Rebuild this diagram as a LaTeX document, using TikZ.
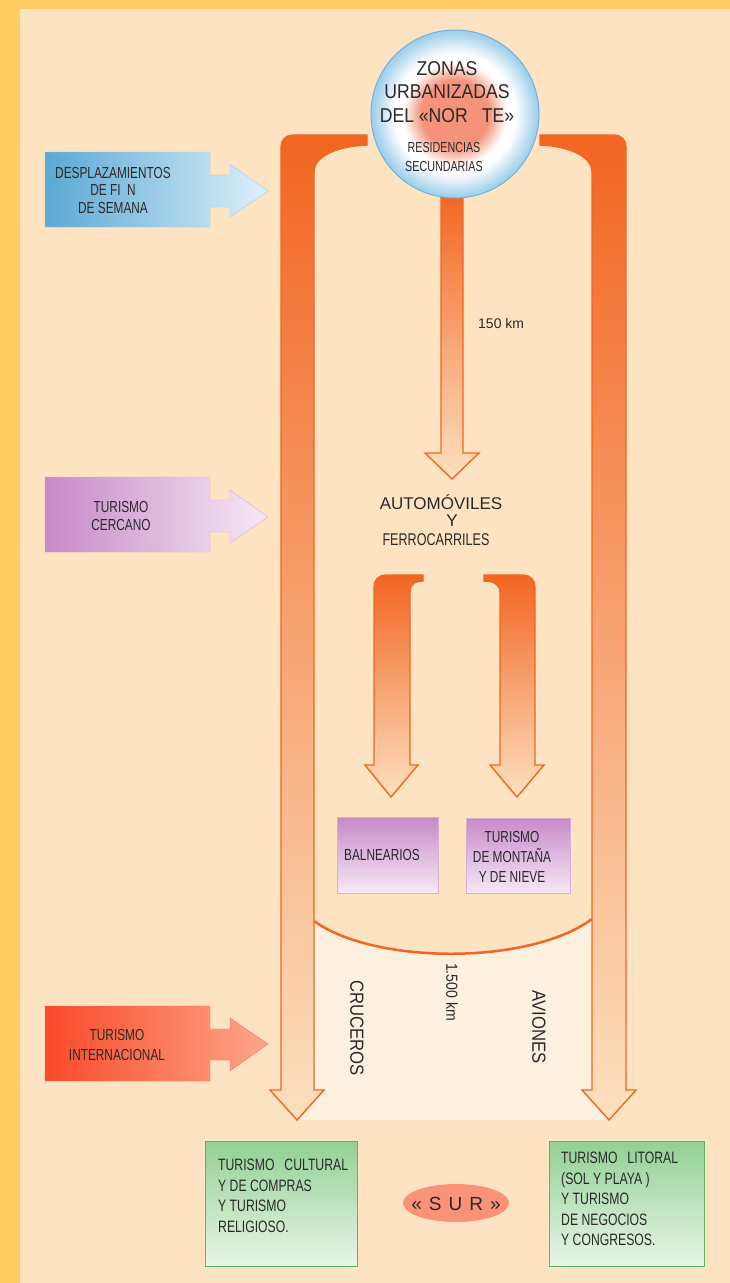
\documentclass[tikz,border=0pt]{standalone}
\usepackage{fontspec}
\usetikzlibrary{shapes.geometric}
\setmainfont{Liberation Sans}
\newfontfamily\cnd[FakeStretch=0.74]{Liberation Sans}
\newfontfamily\semicnd[FakeStretch=0.88]{Liberation Sans}
\definecolor{yellowbar}{HTML}{FFCB63}
\definecolor{bgc}{HTML}{FDE3C1}
\definecolor{lightz}{HTML}{FDF0DF}
\definecolor{orng}{HTML}{F26522}
\definecolor{orngL}{HTML}{FCE0BF}
\definecolor{txt}{HTML}{2A2A2A}
\definecolor{zc1}{HTML}{F4937A}
\definecolor{zb1}{HTML}{A6D3EC}
\definecolor{zb2}{HTML}{79BCE1}
\definecolor{cblue}{HTML}{6FB3DC}
\definecolor{blueL}{HTML}{5AA8D4}
\definecolor{blueR}{HTML}{DDF0F9}
\definecolor{bluebd}{HTML}{9BD0EC}
\definecolor{purL}{HTML}{C78AC9}
\definecolor{purR}{HTML}{F6E8F4}
\definecolor{purbd}{HTML}{D8AED8}
\definecolor{redL}{HTML}{F94A2A}
\definecolor{redR}{HTML}{FDA688}
\definecolor{redbd}{HTML}{F07090}
\definecolor{grT}{HTML}{92D093}
\definecolor{grB}{HTML}{E9F6E8}
\definecolor{grbd}{HTML}{5DB560}
\definecolor{surc}{HTML}{F99277}
\pgfdeclareradialshading{zonashade}{\pgfpoint{0bp}{0bp}}{color(0bp)=(zc1); color(10bp)=(zc1); color(15.5bp)=(white); color(18bp)=(white); color(24bp)=(zb1); color(29bp)=(zb2); color(50bp)=(zb2)}
\begin{document}
\begin{tikzpicture}[x=1pt,y=-1pt,
  bigarrow/.style={draw=orng, line width=1.4pt, top color=orng, bottom color=orngL},
  midarrow/.style={draw=orng, line width=1.4pt, top color=orng, bottom color=orngL},
  lbl/.style={text=txt, inner sep=0pt, align=center},
  sidetxt/.style={lbl, font=\cnd\fontsize{16}{17.5}\selectfont},
  boxtxt/.style={lbl, font=\cnd\fontsize{16}{20}\selectfont},
  grtxt/.style={text=txt, inner sep=0pt, align=left, anchor=north west, font=\cnd\fontsize{16.5}{20.5}\selectfont},
  rottxt/.style={lbl, rotate=-90, font=\semicnd\fontsize{19}{22}\selectfont}]
\useasboundingbox (0,0) rectangle (730,1283);
\fill[fill=yellowbar] (0,0) rectangle (730,1283);
\fill[fill=bgc] (20,9) rectangle (730,1283);
% light zone below the arc
\fill[fill=lightz] (314,921) .. controls (375,965) and (530,965) .. (592,919) -- (592,1100) -- (609,1120) -- (297,1120) -- (314,1100) -- cycle;
\draw[draw=orng, line width=2.5pt] (314,921) .. controls (375,965) and (530,965) .. (592,919);
% big left arrow
\draw[bigarrow] (367,135) -- (293,135) .. controls (286,135) and (281,140) .. (281,147) -- (281,1090) -- (270,1090) -- (297,1120) -- (324,1090) -- (314,1090) -- (314,172) .. controls (314,155) and (340,146) .. (367,145) -- cycle;
% big right arrow
\draw[bigarrow] (540,135) -- (614,135) .. controls (621,135) and (626,140) .. (626,147) -- (626,1090) -- (636,1090) -- (609,1120) -- (582,1090) -- (592,1090) -- (592,172) .. controls (592,155) and (566,146) .. (540,145) -- cycle;
% middle arrow
\draw[midarrow] (441,190) -- (441,453) -- (425,453) -- (452,479) -- (479,453) -- (463,453) -- (463,190) -- cycle;
% circle
\node[circle, minimum size=168pt, inner sep=0pt, shade, shading=zonashade, draw=cblue, line width=1pt] (zonas) at (455,114) {};
\node[lbl, font=\semicnd\fontsize{20}{23.5}\selectfont] (zonastxt) at (447,92) {ZONAS\\URBANIZADAS\\DEL «NOR\hspace{14pt}TE»};
\node[lbl, font=\cnd\fontsize{14.5}{19}\selectfont] (resid) at (444,157) {RESIDENCIAS\\SECUNDARIAS};
\node[lbl, font=\fontsize{14}{16}\selectfont, anchor=west] (km150) at (478,323) {150 km};
% automoviles
\node[lbl, font=\fontsize{17}{19}\selectfont] (auto) at (441,502) {AUTOMÓVILES};
\node[lbl, font=\fontsize{17}{19}\selectfont] (y) at (452,521) {Y};
\node[lbl, font=\cnd\fontsize{17}{19}\selectfont] (ferro) at (436,540) {FERROCARRILES};
% small arrows
\draw[midarrow] (423,575) -- (386,575) .. controls (379,575) and (374,580) .. (374,587) -- (374,765) -- (365,765) -- (391,797) -- (418,765) -- (410,765) -- (410,592) .. controls (410,584) and (415,581) .. (423,581) -- cycle;
\draw[midarrow] (484,575) -- (523,575) .. controls (530,575) and (535,580) .. (535,587) -- (535,765) -- (544,765) -- (517,797) -- (490,765) -- (500,765) -- (500,592) .. controls (500,584) and (493,581) .. (484,581) -- cycle;
% purple boxes
\draw[draw=purbd, top color=purL, bottom color=purR] (337,817) rectangle (438,893);
\node[boxtxt] (baln) at (382,855) {BALNEARIOS};
\draw[draw=purbd, top color=purL, bottom color=purR] (466,818) rectangle (570,893);
\node[boxtxt] (mont) at (512,857) {TURISMO\\DE MONTAÑA\\Y DE NIEVE};
% rotated labels
\node[rottxt] (cruc) at (357,1028) {CRUCEROS};
\node[rottxt, font=\semicnd\fontsize{16}{18}\selectfont] (km1500) at (452,992) {1.500 km};
\node[rottxt] (avion) at (539,1027) {AVIONES};
% side arrows
\draw[draw=bluebd, left color=blueL, right color=blueR] (45,152) -- (210,152) -- (210,175) -- (230,175) -- (230,164) -- (268,191) -- (230,217) -- (230,207) -- (210,207) -- (210,227) -- (45,227) -- cycle;
\node[sidetxt] (despl) at (113,190) {DESPLAZAMIENTOS\\DE FI\ \ N\\DE SEMANA};
\draw[draw=purbd, left color=purL, right color=purR] (45,477) -- (210,477) -- (210,500) -- (230,500) -- (230,490) -- (268,517) -- (230,543) -- (230,532) -- (210,532) -- (210,552) -- (45,552) -- cycle;
\node[sidetxt] (cercano) at (121,516) {TURISMO\\CERCANO};
\draw[draw=redbd, left color=redL, right color=redR] (45,1006) -- (210,1006) -- (210,1029) -- (230,1029) -- (230,1018) -- (268,1044) -- (230,1071) -- (230,1060) -- (210,1060) -- (210,1081) -- (45,1081) -- cycle;
\node[sidetxt, font=\cnd\fontsize{16}{20}\selectfont] (intern) at (117,1045) {TURISMO\\INTERNACIONAL};
% green boxes
\draw[draw=grbd, top color=grT, bottom color=grB] (205,1141) rectangle (357,1266);
\node[grtxt] (cult) at (218,1159) {TURISMO\hspace{10pt}CULTURAL\\Y DE COMPRAS\\Y TURISMO\\RELIGIOSO.};
\draw[draw=grbd, top color=grT, bottom color=grB] (549,1141) rectangle (704,1266);
\node[grtxt] (litoral) at (561,1152) {TURISMO\hspace{10pt}LITORAL\\(SOL Y PLAYA )\\Y TURISMO\\DE NEGOCIOS\\Y CONGRESOS.};
% sur
\node[ellipse, fill=surc, minimum width=106pt, minimum height=38pt, inner sep=0pt] (sur) at (456,1203) {};
\node[lbl, font=\fontsize{19}{21}\selectfont] (surtxt) at (456,1204) {«\hspace{7pt}S\hspace{7pt}U\hspace{7pt}R\hspace{7pt}»};
\end{tikzpicture}
\end{document}
